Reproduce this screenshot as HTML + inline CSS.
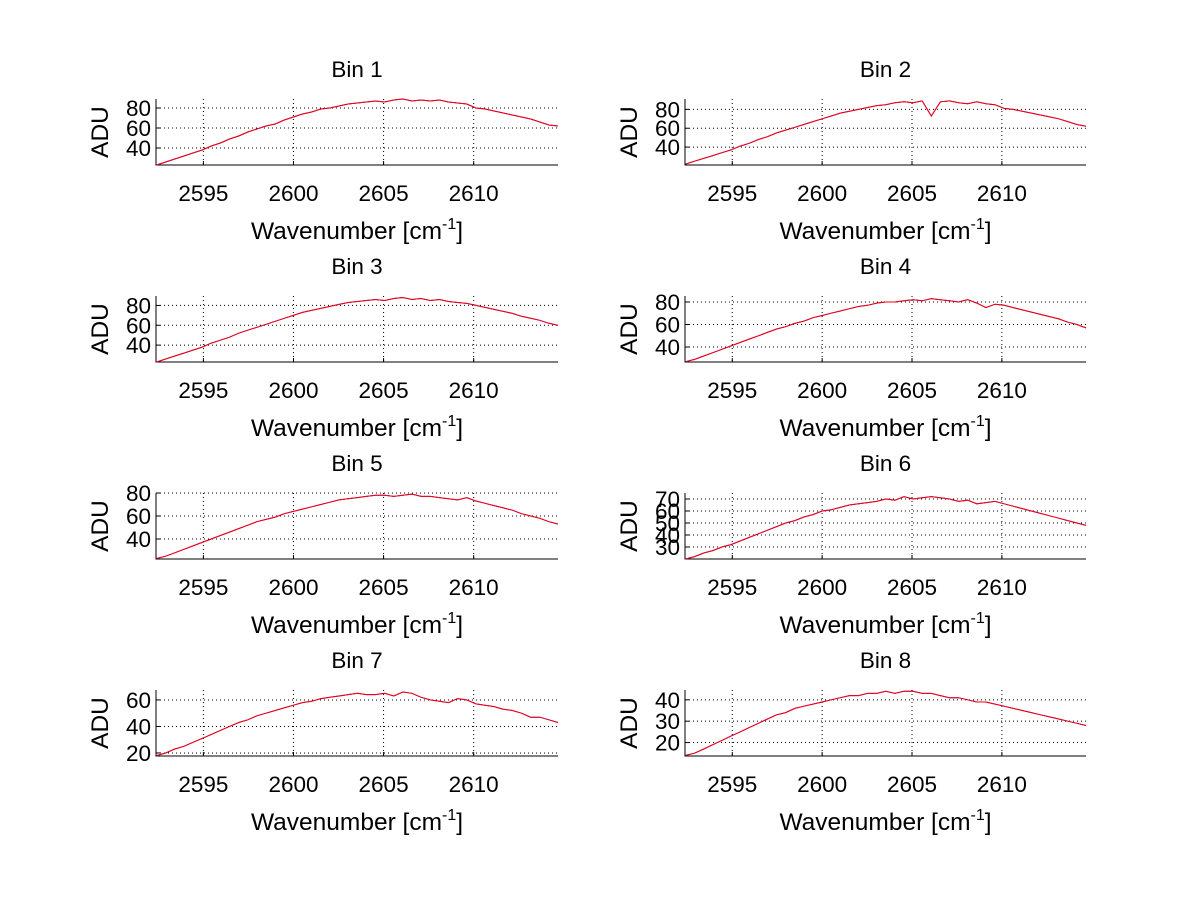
<!DOCTYPE html>
<html><head><meta charset="utf-8"><style>
body{margin:0;background:#fff}
svg text{font-family:"Liberation Sans",sans-serif;fill:#000}
</style></head><body>
<svg id="fig" width="1200" height="901" xmlns="http://www.w3.org/2000/svg"></svg>
<script>
const xTicks=[2595,2600,2605,2610];
const xMin=2592.37, xMax=2614.68;
const titles=["Bin 1","Bin 2","Bin 3","Bin 4","Bin 5","Bin 6","Bin 7","Bin 8"];
const yLims=[[23,89],[21,91],[23,89.5],[26.7,85.3],[22.6,80],[20,75],[17.7,67.5],[13.7,44.6]];
const yTickSets=[[40,60,80],[40,60,80],[40,60,80],[40,60,80],[40,60,80],[30,40,50,60,70],[20,40,60],[20,30,40]];
const bin1=[23,26,29,32,35,38,42,45,49,52,56,59,62,64,68,71,74,76,79,80,82,84,85,86,87,86,88,89,87,88,87,88,86,85,84,80,79,77,75,73,71,69,66,63,62];
const bin2=[22,25,28,31,34,37,41,44,48,51,55,58,61,64,67,70,73,76,78,80,82,84,85,87,88,87,89,73,88,89,87,86,88,86,85,81,80,78,76,74,72,70,67,64,62];
const bin3=[23,26,29,32,35,38,42,45,48,52,55,58,61,64,67,70,73,75,77,79,81,83,84,85,86,85,87,88,86,87,85,86,84,83,82,80,78,76,74,72,69,67,65,62,60];
const bin4=[27,29,32,35,38,41,44,47,50,53,56,58,61,63,66,68,70,72,74,76,77,79,80,80,81,82,81,83,82,81,80,82,79,75,78,77,75,73,71,69,67,65,62,60,57];
const bin5=[23,25,28,31,34,37,40,43,46,49,52,55,57,59,62,64,66,68,70,72,74,75,76,77,78,78,77,78,79,77,77,76,75,74,76,73,71,69,67,65,62,60,58,55,53];
const bin6=[20,22,25,27,30,32,35,38,41,44,47,50,52,55,57,60,61,63,65,66,67,68,70,69,72,70,71,72,71,70,68,69,66,67,68,66,64,62,60,58,56,54,52,50,48];
const bin7=[18,20,23,25,28,31,34,37,40,43,45,48,50,52,54,56,58,59,61,62,63,64,65,64,64,65,63,66,65,62,60,59,58,61,60,57,56,55,53,52,50,47,47,45,43];
const bin8=[14,15,17,19,21,23,25,27,29,31,33,34,36,37,38,39,40,41,42,42,43,43,44,43,44,44,43,43,42,41,41,40,39,39,38,37,36,35,34,33,32,31,30,29,28];
const series=[bin1,bin2,bin3,bin4,bin5,bin6,bin7,bin8];

const NS="http://www.w3.org/2000/svg";
const svg=document.getElementById('fig');
function mk(tag,attrs,parent){const e=document.createElementNS(NS,tag);for(const k in attrs)e.setAttribute(k,attrs[k]);(parent||svg).appendChild(e);return e;}
const colL=[156,558],colR=[685,1086];
const rowTop=[99,296,493,690],H=66;
series.forEach((data,b)=>{
  const col=b%2?colR:colL, top=rowTop[Math.floor(b/2)], bot=top+H;
  const g=mk('g',{});
  
  
  const sx=v=>col[0]+(v-xMin)/(xMax-xMin)*(col[1]-col[0]);
  const [y0,y1]=yLims[b];
  const sy=v=>bot-(v-y0)/(y1-y0)*H;
  xTicks.forEach(t=>{const l=mk('line',{x1:sx(t),x2:sx(t),y1:top,y2:bot,stroke:'#000','stroke-width':1,'stroke-dasharray':'1,3'},g);
    
    const tx=mk('text',{x:sx(t),y:bot+36,'font-size':22.5,'text-anchor':'middle'},g);tx.textContent=t;
    
    mk('line',{x1:sx(t),x2:sx(t),y1:bot,y2:bot-4,stroke:'#000'},g);});
  yTickSets[b].forEach(t=>{const y=sy(t);const l=mk('line',{x1:col[0],x2:col[1],y1:y,y2:y,stroke:'#000','stroke-width':1,'stroke-dasharray':'1,3'},g);
    
    const tx=mk('text',{x:col[0]-5,y:y+8,'font-size':22.5,'text-anchor':'end'},g);tx.textContent=t;
    
    mk('line',{x1:col[0],x2:col[0]+4,y1:y,y2:y,stroke:'#000'},g);});
  const ax=mk('path',{d:`M${col[0]},${top}V${bot}H${col[1]}`,stroke:'#000',fill:'none','stroke-width':1},g);
  
  const pts=data.map((v,i)=>{const x=2592.4+0.5*i*(22.28/22);return sx(Math.min(x,xMax)).toFixed(1)+','+sy(v).toFixed(1);}).join(' ');
  const bl=mk('polyline',{points:pts,fill:'none',stroke:'#0000ff','stroke-width':1},g);
  
  const rl=mk('polyline',{points:pts,fill:'none',stroke:'#ff0000','stroke-width':1},g);
  
  const cx=(col[0]+col[1])/2;
  const ti=mk('text',{x:cx,y:top-22,'font-size':22.5,'text-anchor':'middle'},g);ti.textContent=titles[b];
  
  const xl=mk('text',{x:cx,y:bot+74,'font-size':24.5,'text-anchor':'middle'},g);
  
  xl.innerHTML='Wavenumber [cm<tspan dy="-10" font-size="16">-1</tspan><tspan dy="10">]</tspan>';
  const yl=mk('text',{x:0,y:0,'font-size':24.5,'text-anchor':'middle',transform:`translate(${col[0]-48},${top+H/2}) rotate(-90)`},g);yl.textContent='ADU';
  
});
</script>
</body></html>
